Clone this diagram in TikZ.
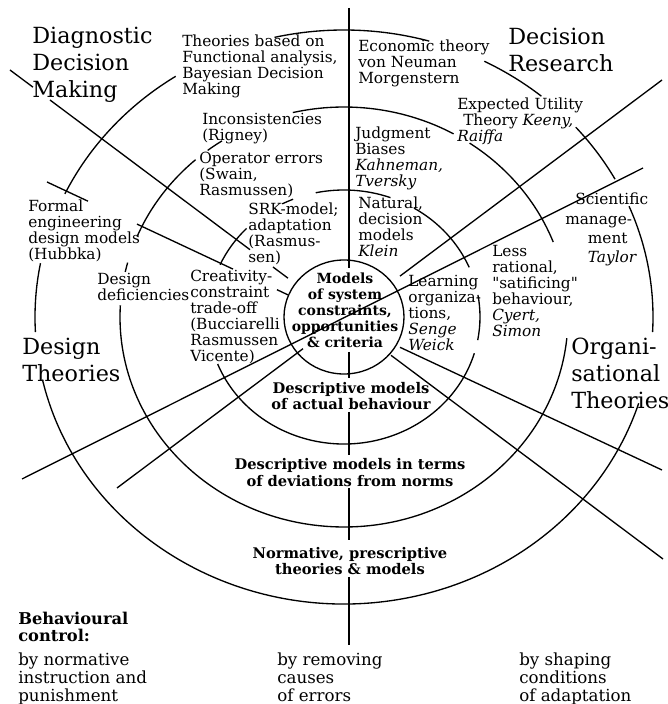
\documentclass[tikz,border=0pt]{standalone}
\usepackage{fontspec}
\setmainfont{DejaVu Serif}
% same face without TeX ligatures, for straight double quotes
\newfontfamily\plainquote{DejaVu Serif}
\usetikzlibrary{calc}

% one elliptic ring segment around the common centre O:
% #1 x radius, #2 y radius, #3 start angle, #4 end angle
\newcommand\ringarc[4]{%
  \draw[ring] ($(O)+(#3:#1 and #2)$) arc[start angle=#3, end angle=#4, x radius=#1, y radius=#2];}
\newcommand\dq{{\plainquote\char"22}}

\begin{document}
\begin{tikzpicture}[x=0.75pt, y=0.75pt,
  ring/.style={line width=1pt},
  ray/.style={line width=1pt},
  lbl/.style={inner sep=0pt, anchor=north west, align=left, font=\fontsize{11.5}{12}\selectfont},
  big/.style={inner sep=0pt, anchor=north west, align=left, font=\fontsize{16.7}{20.2}\selectfont},
  core/.style={inner sep=0pt, anchor=north, align=center, font=\fontsize{11}{12}\selectfont\bfseries},
  foot/.style={inner sep=0pt, anchor=north west, align=left, font=\fontsize{12.5}{13.5}\selectfont},
]
\useasboundingbox (0,0) rectangle (668,704);
\fill[white] (0,0) rectangle (668,704);
\coordinate (O) at (344,387);

% ---------- rings ----------
\draw[ring] (O) ellipse[x radius=60, y radius=57];

% actual behaviour ring
\ringarc{136}{127}{70}{102}
\ringarc{136}{127}{23}{59}
\ringarc{136}{127}{-10.5}{10}
\ringarc{136}{127}{201.7}{343.4}
\ringarc{136}{127}{135.8}{155.7}
\ringarc{136}{127}{112}{117}

% deviations ring
\ringarc{224}{210}{60.7}{103.2}
\ringarc{224}{210}{20.9}{55.9}
\ringarc{224}{210}{176.8}{354.2}
\ringarc{224}{210}{165}{167.6}
\ringarc{224}{210}{131.5}{157.5}
\ringarc{224}{210}{123}{127.5}

% normative ring
\ringarc{309}{287}{74}{103}
\ringarc{309}{287}{50.3}{63}
\ringarc{309}{287}{28.7}{41.4}
\ringarc{309}{287}{-3}{22.7}
\ringarc{309}{287}{192.6}{342.5}
\ringarc{309}{287}{169.2}{183}
\ringarc{309}{287}{123}{154.6}

% ---------- radial lines ----------
% vertical axis
\draw[ray] (349,696) -- (349,436);
\draw[ray] (349,352) -- (349,326);
\draw[ray] (349,292) -- (349,249);
\draw[ray] (349,216) -- (349,164);
\draw[ray] (349,127) -- (349,59);
% upper left to lower right, steep
\draw[ray] (10,634) -- (33,616.8);
\draw[ray] (50,604) -- (250,454.3);
\draw[ray] (273,437) -- (288,425.8);
\draw[ray] (391,348.7) -- (663,145);
% upper left to lower right, shallow
\draw[ray] (47,522) -- (88,502.8);
\draw[ray] (137,479.9) -- (233,434.9);
\draw[ray] (277,414.3) -- (288,409.1);
\draw[ray] (400,356.7) -- (662,234);
% upper right to lower left, steep
\draw[ray] (662,624) -- (400,427.9);
\draw[ray] (303,355.3) -- (117,216);
% upper right to lower left, shallow
\draw[ray] (643,536) -- (22,225);

% ---------- sector titles ----------
\node[big] (diag) at (32,677) {Diagnostic\\Decision\\Making};
\node[big] (decres) at (508,676) {Decision\\Research};
\node[big] (desth) at (22,366) {Design\\Theories};
\node[big] (orgth) at (571,366) {Organi-\\sational\\Theories};

% ---------- sector entries ----------
\node[lbl] (bayes) at (182,669) {Theories based on\\Functional analysis,\\Bayesian Decision\\Making};
\node[lbl] (econ) at (358,664) {Economic theory\\von Neuman\\Morgenstern};
\node[lbl] (eut) at (457,606) {Expected Utility\\\hspace*{4.5pt}Theory \textit{Keeny,}\\\textit{Raiffa}};
\node[lbl] (incons) at (202,591) {Inconsistencies\\(Rigney)};
\node[lbl] (operr) at (199,552) {Operator errors\\(Swain,\\Rasmussen)};
\node[lbl] (srk) at (248,501) {SRK-model;\\adaptation\\(Rasmus-\\sen)};
\node[lbl] (formal) at (28,504) {Formal\\engineering\\design models\\(Hubbka)};
\node[lbl] (desdef) at (97,431) {Design\\deficiencies};
\node[lbl] (creat) at (190,434) {Creativity-\\constraint\\trade-off\\(Bucciarelli\\Rasmussen\\Vicente)};
\node[lbl] (judg) at (355,577) {Judgment\\Biases\\\textit{Kahneman,}\\\textit{Tversky}};
\node[lbl] (natur) at (358,507) {Natural,\\decision\\models\\\textit{Klein}};
\node[lbl] (learn) at (408,429) {Learning\\organiza-\\tions,\\\textit{Senge}\\\textit{Weick}};
\node[lbl] (lessr) at (492,459) {Less\\rational,\\\dq satificing\dq\\behaviour,\\\textit{Cyert,}\\\textit{Simon}};
\node[lbl, font=\fontsize{11.5}{14.5}\selectfont] (sci) at (565,511)
  {\hspace*{7.5pt}Scientific\\manage-\\\hspace*{17pt}ment\\\hspace*{17pt}\textit{Taylor}};

% ---------- ring titles ----------
\node[core, font=\fontsize{10.5}{12}\selectfont\bfseries] (core) at (345,431)
  {Models\\of system\\constraints,\\opportunities\\\& criteria};
\node[core] (desc1) at (351,322) {Descriptive models\\of actual behaviour};
\node[core, font=\fontsize{11}{12.6}\selectfont\bfseries] (desc2) at (350,246)
  {Descriptive models in terms\\of deviations from norms};
\node[core] (norm) at (350,157) {Normative, prescriptive\\theories \& models};

% ---------- behavioural control ----------
\node[inner sep=0pt, anchor=north west, align=left, font=\fontsize{12.2}{12.8}\selectfont\bfseries]
  (bctl) at (18,92) {Behavioural\\control:};
\node[foot] (fnorm) at (18,51) {by normative\\instruction and\\punishment};
\node[foot] (frem) at (277,51) {by removing\\causes\\of errors};
\node[foot] (fshape) at (519,51) {by shaping\\conditions\\of adaptation};
\end{tikzpicture}
\end{document}
